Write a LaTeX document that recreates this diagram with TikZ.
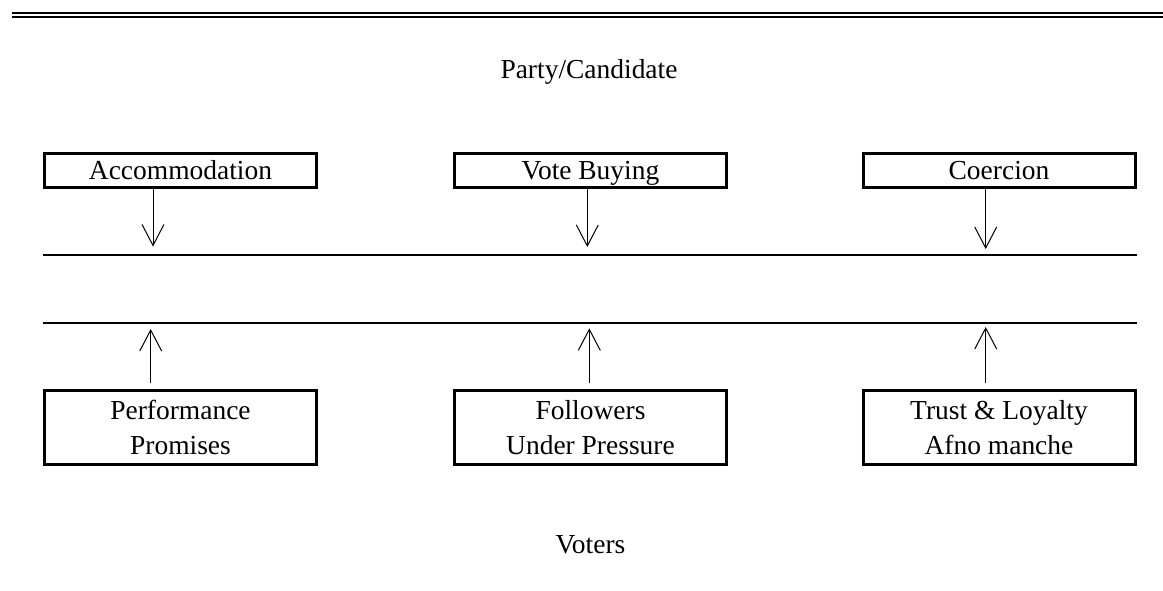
\documentclass[tikz,border=0pt]{standalone}
\usepackage{fontspec}
\setmainfont{Liberation Serif}
\usetikzlibrary{arrows.meta}
\newcommand{\boxfont}{\fontsize{20.6}{26.25}\selectfont}
\tikzset{
  tactic/.style={draw, line width=2.25pt, minimum width=204pt, minimum height=25.5pt, inner sep=0pt, font=\boxfont, text height=14pt, text depth=0pt},
  motive/.style={draw, line width=2.25pt, minimum width=204pt, minimum height=55.5pt, inner sep=0pt, font=\boxfont, align=center},
  linkarrow/.style={line width=0.75pt, -{Straight Barb[length=15.75pt,width=16.5pt,line width=0.75pt]}},
  rule/.style={line width=1.5pt}
}

\begin{document}
\begin{tikzpicture}[x=0.75pt,y=0.75pt,yscale=-1,xscale=1]
\useasboundingbox (0,0) rectangle (1163,590);

%Double rule at the top
\draw [line width=1.5pt] (12,13) -- (1163,13) ;
\draw [line width=1.7pt] (12,16.8) -- (1163,16.8) ;

%Straight Lines
\draw [rule] (43,255) -- (1137,255) ;
\draw [rule] (43,322.7) -- (1137,322.7) ;

% Text Node
\node (party) at (589,78) [anchor=base, font=\boxfont] {Party/Candidate};
% Text Node
\node (voters) at (590.5,553) [anchor=base, font=\boxfont] {Voters};

% Tactics of the party
\node [tactic] (accom) at (180.5,170.5) {Accommodation};
\node [tactic] (buying) at (590.5,170.5) {Vote Buying};
\node [tactic] (coerce) at (999,170.5) {Coercion};

% Motives of the voters
\node [motive] (perf) at (180.5,427.5) {Performance\\Promises};
\node [motive] (follow) at (590.5,427.5) {Followers\\Under Pressure};
\node [motive] (trust) at (999,427.5) {Trust \& Loyalty\\Afno manche};

% arrow ends on the lines
\coordinate (accomTip) at (153,246.5);
\coordinate (buyingTip) at (587.3,247);
\coordinate (coerceTip) at (985.7,249);
\coordinate (perfTip) at (150.7,329);
\coordinate (followTip) at (589.3,328.3);
\coordinate (trustTip) at (985.7,327);

\draw [linkarrow] (accom.south -| accomTip) -- (accomTip) ;
\draw [linkarrow] (buying.south -| buyingTip) -- (buyingTip) ;
\draw [linkarrow] (coerce.south -| coerceTip) -- (coerceTip) ;

\draw [linkarrow, shorten <=4.5pt] (perf.north -| perfTip) -- (perfTip) ;
\draw [linkarrow, shorten <=4.5pt] (follow.north -| followTip) -- (followTip) ;
\draw [linkarrow, shorten <=4.5pt] (trust.north -| trustTip) -- (trustTip) ;

\end{tikzpicture}
\end{document}
